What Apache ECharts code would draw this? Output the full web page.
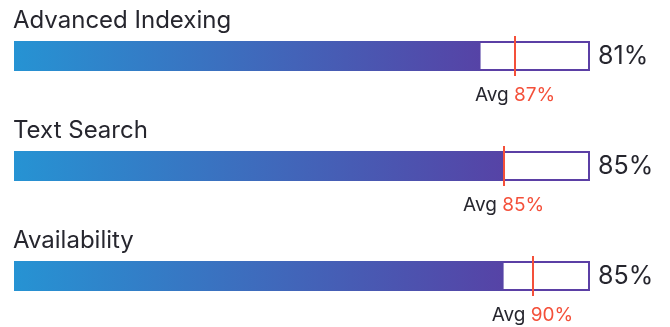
<!DOCTYPE html>
<html><head><meta charset="utf-8">
<script src="https://cdn.jsdelivr.net/npm/echarts@6/dist/echarts.min.js"></script>
<style>html,body{margin:0;padding:0;background:#fff}#c{width:670px;height:327px}</style>
</head><body><div id="c"></div>
<script>
const categories = ['Advanced Indexing', 'Text Search', 'Availability'];
const values = [81, 85, 85];
const averages = [87, 85, 90];
const trackMax = [100, 100, 100];

const rowTop = [36, 146, 256];
const FONT = 'Inter';
const chart = echarts.init(document.getElementById('c'), null, {renderer: 'canvas'});

const grids = [], xAxes = [], yAxes = [], series = [], titles = [];
categories.forEach((cat, i) => {
  grids.push({left: 14, right: 80, top: rowTop[i], height: 40});
  xAxes.push({type: 'value', gridIndex: i, min: 0, max: 100, show: false});
  yAxes.push({type: 'category', gridIndex: i, data: [cat], show: false});
  titles.push({text: cat, left: 8, top: rowTop[i] - 32,
    textStyle: {fontFamily: FONT, fontSize: 24, fontWeight: 'normal', color: '#26262e'}});
  series.push({
    type: 'bar', xAxisIndex: i, yAxisIndex: i, barWidth: 30, silent: true,
    data: [trackMax[i]],
    itemStyle: {color: '#ffffff', borderColor: '#5b3fa5', borderWidth: 2},
    label: {show: true, position: 'right', distance: 8, formatter: () => values[i] + '%',
      fontFamily: FONT, fontSize: 25, color: '#26262e', padding: [3, 0, 0, 0]},
    z: 2
  });
  series.push({
    type: 'bar', xAxisIndex: i, yAxisIndex: i, barWidth: 30, barGap: '-100%', silent: true,
    data: [values[i]],
    itemStyle: {color: new echarts.graphic.LinearGradient(0, 0, 1, 0, [
      {offset: 0, color: '#2693d3'}, {offset: 1, color: '#5643a6'}])},
    markLine: {
      symbol: 'none', silent: true,
      lineStyle: {color: '#f4503a', width: 2, type: 'solid'},
      label: {show: true, position: 'start', distance: 10,
        formatter: () => 'Avg {r|' + averages[i] + '%}',
        fontFamily: FONT, fontSize: 19, color: '#26262e',
        rich: {r: {fontFamily: FONT, fontSize: 19, color: '#f4503a'}}},
      data: [{xAxis: averages[i]}]
    },
    z: 3
  });
});

chart.setOption({
  animation: false,
  title: titles,
  grid: grids, xAxis: xAxes, yAxis: yAxes, series: series
});
</script></body></html>
